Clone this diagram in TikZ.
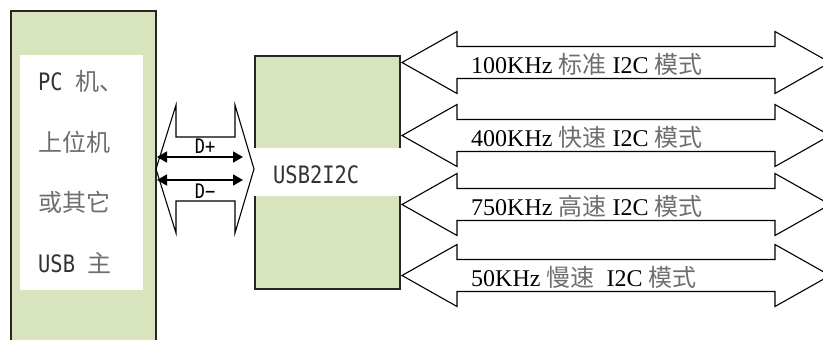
\documentclass[tikz,border=0pt]{standalone}
\usepackage{fontspec}
\setmainfont{Liberation Serif}
\newfontfamily\cjk{Noto Sans CJK SC}
\newfontfamily\narrow[FakeStretch=0.85]{DejaVu Sans Mono}
\usetikzlibrary{positioning, calc, arrows.meta}
\definecolor{boxgreen}{RGB}{215,228,189}
\definecolor{cjkgray}{RGB}{110,110,110}
\newcommand{\cntext}[1]{{\cjk\color{cjkgray}#1}}

\begin{document}
\begin{tikzpicture}[x=1pt, y=-1pt, every node/.style={inner sep=0pt},
  box/.style={draw=black!85, line width=2pt, fill=boxgreen},
  hosttext/.style={anchor=base west, text=black!80, font=\fontsize{24}{24}\selectfont},
  modetext/.style={anchor=base west, font=\fontsize{24}{24}\selectfont},
  fat/.style={draw, line width=1.1pt, line join=miter},
  sig/.style={line width=1.4pt, {Triangle[length=10pt,width=11pt]}-{Triangle[length=10pt,width=11pt]}}]

\useasboundingbox (0,0) rectangle (823,340);
\clip (0,0) rectangle (823,340);

% host side
\node[box, minimum width=145pt, minimum height=360pt] (pc) at (83.5,191) {};
\node[fill=white, minimum width=123pt, minimum height=235pt] (host) at (81.5,172.5) {};

\node[hosttext] (hostA) at (38,90)  {\narrow PC \cntext{机、}};
\node[hosttext] (hostB) at (38,151) {\cntext{上位机}};
\node[hosttext] (hostC) at (38,211) {\cntext{或其它}};
\node[hosttext] (hostD) at (38,272) {\narrow USB \cntext{主}};

% converter
\node[box, minimum width=145pt, minimum height=233pt] (conv) at (327.5,172.5) {};
\node[fill=white, minimum width=149pt, minimum height=48pt] (band) at (327.5,172) {};
\node[hosttext] (convT) at (273,183) {\narrow USB2I2C};

% usb bus between the boxes
\coordinate (usbL) at (156,169);
\draw[fat] (usbL) -- ++(20,-64) -- ++(0,32) -- ++(59,0) -- ++(0,-32) -- ++(19,64)
  -- ++(-19,64) -- ++(0,-32) -- ++(-59,0) -- ++(0,32) -- cycle;

\coordinate (dpA) at (157,157);
\coordinate (dpB) at (243,157);
\coordinate (dmA) at (157,180);
\coordinate (dmB) at (243,180);
\draw[sig] (dpA) -- (dpB);
\draw[sig] (dmA) -- (dmB);
\node[anchor=base, font=\fontsize{20}{20}\selectfont] (dpT) at (205,153) {\narrow D+};
\node[anchor=base, font=\fontsize{20}{20}\selectfont] (dmT) at (205,198) {\narrow D−};

% i2c modes
\coordinate (modeA) at (402,62.5);
\coordinate (modeB) at (402,135.5);
\coordinate (modeC) at (402,204.5);
\coordinate (modeD) at (402,275.5);

\draw[fat] (modeA) -- ++(55,-31) -- ++(0,15) -- ++(318,0) -- ++(0,-15) -- ++(55,31)
  -- ++(-55,31) -- ++(0,-15) -- ++(-318,0) -- ++(0,15) -- cycle;
\draw[fat] (modeB) -- ++(55,-31) -- ++(0,15) -- ++(318,0) -- ++(0,-15) -- ++(55,31)
  -- ++(-55,31) -- ++(0,-15) -- ++(-318,0) -- ++(0,15) -- cycle;
\draw[fat] (modeC) -- ++(55,-31) -- ++(0,15) -- ++(318,0) -- ++(0,-15) -- ++(55,31)
  -- ++(-55,31) -- ++(0,-15) -- ++(-318,0) -- ++(0,15) -- cycle;
\draw[fat] (modeD) -- ++(55,-31) -- ++(0,15) -- ++(318,0) -- ++(0,-15) -- ++(55,31)
  -- ++(-55,31) -- ++(0,-15) -- ++(-318,0) -- ++(0,15) -- cycle;

\node[modetext] (modeAT) at (471,73)  {100KHz \cntext{标准} I2C \cntext{模式}};
\node[modetext] (modeBT) at (471,146) {400KHz \cntext{快速} I2C \cntext{模式}};
\node[modetext] (modeCT) at (471,215) {750KHz \cntext{高速} I2C \cntext{模式}};
\node[modetext] (modeDT) at (471,286) {50KHz \cntext{慢速}\ \ I2C \cntext{模式}};

\end{tikzpicture}
\end{document}
